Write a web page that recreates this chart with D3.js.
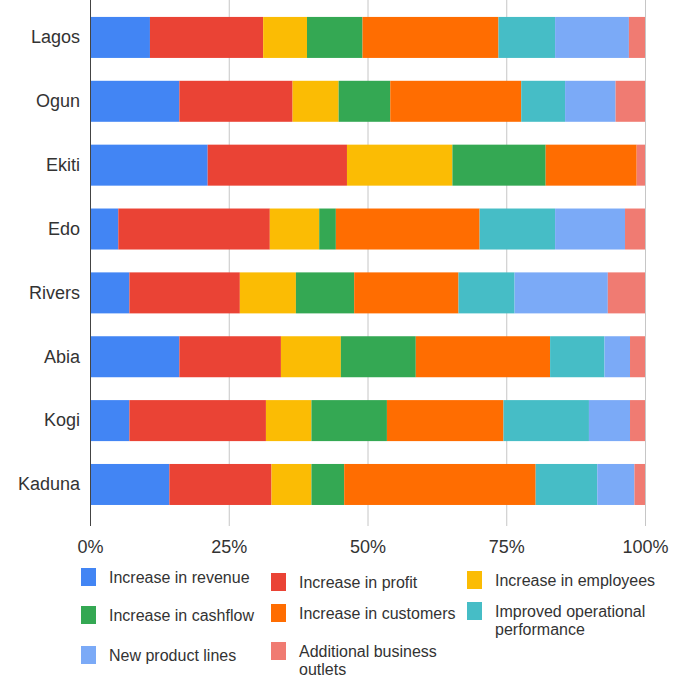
<!DOCTYPE html>
<html>
<head>
<meta charset="utf-8">
<script src="https://cdn.jsdelivr.net/npm/d3@7"></script>
<style>
  html, body { margin: 0; padding: 0; background: #fff; }
  svg { display: block; font-family: "Liberation Sans", Arial, sans-serif; }
</style>
</head>
<body>
<svg id="chart" width="689" height="679"></svg>
<script>
const states = ["Lagos", "Ogun", "Ekiti", "Edo", "Rivers", "Abia", "Kogi", "Kaduna"];
const seriesNames = ["Increase in revenue", "Increase in profit", "Increase in employees",
  "Increase in cashflow", "Increase in customers", "Improved operational performance",
  "New product lines", "Additional business outlets"];
const colors = ["#4285F4", "#EA4335", "#FBBC04", "#34A853", "#FF6D01", "#46BDC6", "#7BAAF7", "#F07B72"];

// percentage shares per state, in series order
const revenue   = [10.8, 16.1, 21.2,  5.1,  7.1, 16.1,  7.1, 14.3];
const profit    = [20.4, 20.4, 25.1, 27.3, 19.9, 18.3, 24.6, 18.4];
const employees = [ 7.9,  8.3, 19.0,  8.9, 10.1, 10.8,  8.2,  7.2];
const cashflow  = [10.0,  9.3, 16.8,  3.0, 10.5, 13.5, 13.6,  5.9];
const customers = [24.5, 23.6, 16.4, 25.9, 18.8, 24.2, 21.0, 34.5];
const operational = [10.2, 7.9,  0.0, 13.6, 10.1,  9.8, 15.4, 11.1];
const productLines = [13.3, 9.1, 0.0, 12.6, 16.8,  4.6,  7.4,  6.7];
const outlets   = [ 2.9,  5.3,  1.5,  3.6,  6.7,  2.7,  2.7,  1.9];

const tickValues = [0, 0.25, 0.5, 0.75, 1];

const seriesData = [revenue, profit, employees, cashflow, customers, operational, productLines, outlets];
const rows = states.map((s, i) => {
  const r = { state: s };
  seriesNames.forEach((n, k) => r[n] = seriesData[k][i]);
  return r;
});

const svg = d3.select("#chart");
const x = d3.scaleLinear().domain([0, 1]).range([90, 645]);
const y = d3.scaleBand().domain(states).range([5.5, 516.4]).paddingInner(0.358).paddingOuter(0.179);

const stack = d3.stack().keys(seriesNames).offset(d3.stackOffsetExpand);
const stacked = stack(rows);

// gridlines + ticks
const gx = svg.append("g").attr("transform", "translate(0,526)")
  .call(d3.axisBottom(x).tickValues(tickValues).tickFormat(d3.format(".0%")).tickSize(-526).tickPadding(14));
gx.select(".domain").remove();
gx.selectAll(".tick line").attr("stroke", "#c6c6c6").attr("stroke-width", 1);
gx.selectAll(".tick text").attr("font-size", 18).attr("fill", "#333")
  .attr("font-family", "'Liberation Sans', Arial, sans-serif");

// bars
svg.append("g").selectAll("g").data(stacked).join("g")
  .attr("fill", (d, i) => colors[i])
  .selectAll("rect").data(d => d).join("rect")
  .attr("x", d => x(d[0]))
  .attr("width", d => Math.max(0, x(d[1]) - x(d[0])))
  .attr("y", d => y(d.data.state))
  .attr("height", y.bandwidth());

// y axis
const gy = svg.append("g").attr("transform", "translate(90,0)")
  .call(d3.axisLeft(y).tickSize(0).tickPadding(10));
gy.select(".domain").remove();
gy.selectAll(".tick text").attr("font-size", 18).attr("fill", "#333")
  .attr("font-family", "'Liberation Sans', Arial, sans-serif");
svg.append("line").attr("x1", 90.5).attr("x2", 90.5).attr("y1", 0).attr("y2", 526)
  .attr("stroke", "#444").attr("stroke-width", 1);

// legend
const legendLayout = [
  { x: 81, y: 577 }, { x: 271, y: 582 }, { x: 467, y: 580 },
  { x: 81, y: 615 }, { x: 271, y: 613 }, { x: 467, y: 611 },
  { x: 81, y: 655 }, { x: 271, y: 651 }
];
const legendOrder = [0, 1, 2, 3, 4, 5, 6, 7];
const wrapLines = {
  "Improved operational performance": ["Improved operational", "performance"],
  "Additional business outlets": ["Additional business", "outlets"]
};
const lg = svg.append("g");
legendOrder.forEach((k, i) => {
  const p = legendLayout[i];
  const name = seriesNames[k];
  const lines = wrapLines[name] || [name];
  const g = lg.append("g").attr("transform", `translate(${p.x},${p.y})`);
  g.append("rect").attr("x", 0).attr("y", -9).attr("width", 15).attr("height", 18).attr("fill", colors[k]);
  const t = g.append("text").attr("x", 28).attr("y", 0).attr("font-size", 16).attr("fill", "#333")
    .attr("dominant-baseline", "central");
  lines.forEach((ln, j) => t.append("tspan").attr("x", 28).attr("dy", j === 0 ? 0 : 18).text(ln));
});
</script>
</body>
</html>
